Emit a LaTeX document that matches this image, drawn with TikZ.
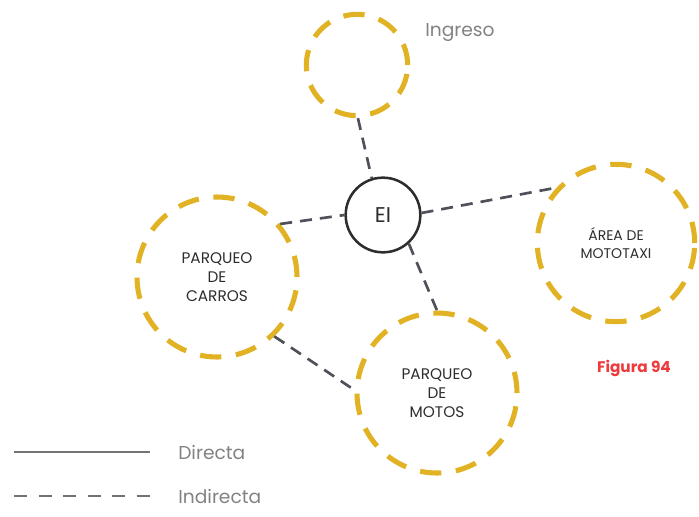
\documentclass[tikz,border=0pt]{standalone}
\usepackage{fontspec}
\setmainfont{Poppins}
\usepackage{tikz}
\usetikzlibrary{positioning}
\definecolor{zoneYellow}{RGB}{225,178,36}
\definecolor{linkGray}{RGB}{78,80,90}
\definecolor{legendGray}{RGB}{115,115,115}
\definecolor{textGray}{RGB}{130,130,130}
\definecolor{labelDark}{RGB}{45,45,45}
\definecolor{figRed}{RGB}{238,58,58}
\tikzset{
  zone/.style={
    circle, draw=zoneYellow, line width=3.8pt, minimum size=120pt,
    dash pattern=on 16pt off 11pt, align=center, text=labelDark,
    font=\fontsize{11.5}{14.5}\selectfont, inner sep=0pt
  },
  core/.style={
    circle, draw=labelDark, line width=1.9pt, minimum size=56pt,
    font=\fontsize{16}{18}\selectfont, text=labelDark
  },
  linkLine/.style={draw=linkGray, line width=2pt, dash pattern=on 9pt off 6pt},
  legendSolid/.style={draw=legendGray, line width=2.2pt},
  legendDash/.style={draw=legendGray, line width=2.2pt, dash pattern=on 10pt off 8.4pt},
  softLabel/.style={text=textGray, font=\fontsize{14}{16}\selectfont, inner sep=0pt}
}
\begin{document}
\begin{tikzpicture}[x=0.75pt,y=-0.75pt]
  \useasboundingbox (0,0) rectangle (699,517);
  % zonas
  \node[zone, minimum size=76pt] (ingreso) at (357,65) {};
  \node[core] (ei) at (383,215) {EI};
  \node[zone] (carros) at (217,277) {PARQUEO\\DE\\CARROS};
  \node[zone, minimum size=118pt, font=\fontsize{10.5}{13}\selectfont] (mototaxi) at (616,243) {ÁREA DE\\MOTOTAXI};
  \node[zone] (motos) at (437,393) {PARQUEO\\DE\\MOTOS};
  \node[softLabel, anchor=west] (ingresoTxt) at (425,33) {Ingreso};
  \node[text=figRed, font=\fontsize{11.5}{13}\selectfont\bfseries] (figura) at (634,368) {Figura 94};
  % relaciones indirectas
  \draw[linkLine] (ingreso.-89) -- (ei.107);
  \draw[linkLine] (carros.40) -- (ei.180);
  \draw[linkLine] (ei.3) -- (mototaxi.137);
  \draw[linkLine] (ei.-48) -- (motos.90);
  \draw[linkLine] (carros.-46) -- (motos.178);
  % leyenda
  \coordinate (dirA) at (14,452);
  \coordinate (dirB) at (150,452);
  \coordinate (indA) at (14,496);
  \coordinate (indB) at (150,496);
  \draw[legendSolid] (dirA) -- (dirB);
  \draw[legendDash] (indA) -- (indB);
  \node[softLabel, right=21pt of dirB] (dirTxt) {Directa};
  \node[softLabel, right=21pt of indB] (indTxt) {Indirecta};
\end{tikzpicture}
\end{document}
